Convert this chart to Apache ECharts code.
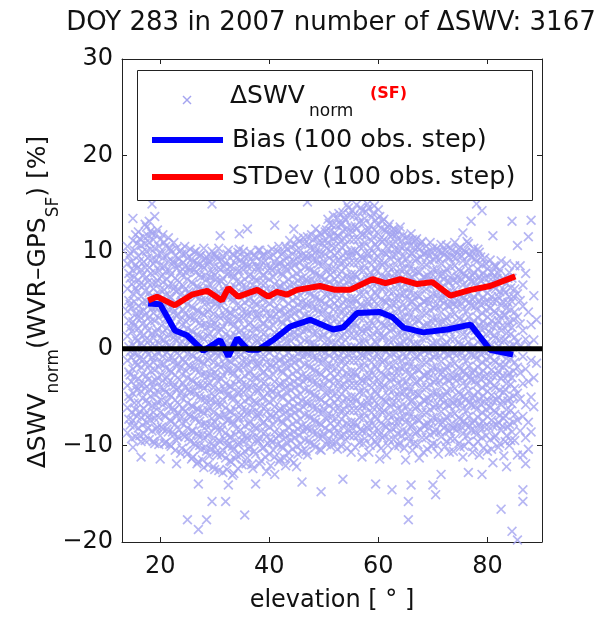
<!DOCTYPE html>
<html><head><meta charset="utf-8">
<script src="https://cdn.jsdelivr.net/npm/echarts@6/dist/echarts.min.js"></script>
<style>html,body{margin:0;padding:0;background:#fff}#c{width:601px;height:618px}</style>
</head><body><div id="c"></div><script>
const FONT = '"DejaVu Sans", sans-serif';
const titleText = 'DOY 283 in 2007 number of ΔSWV: 3167';
const xTicks = [20, 40, 60, 80];
const xMin = 13, xMax = 90;
const yMin = -20, yMax = 30, yStep = 10;

// Bias (100 obs. step)
const biasElev = [17.8,20.0,22.7,24.9,27.9,31.0,32.5,34.1,36.1,38.0,40.7,43.8,47.5,51.7,53.5,56.1,60.3,62.5,64.6,68.2,72.6,76.9,80.5,84.7];
const biasVal  = [4.7,4.6,1.9,1.4,-0.2,0.9,-0.8,1.1,-0.1,-0.1,0.9,2.3,3.0,2.0,2.2,3.7,3.8,3.3,2.2,1.7,2.0,2.5,-0.1,-0.6];
// STDev (100 obs. step)
const stdElev = [17.8,19.4,22.7,25.8,28.6,31.3,32.5,34.3,37.8,39.8,41.4,43.2,45.1,49.3,52.1,54.8,58.9,61.3,64.0,67.1,69.9,73.2,76.9,80.5,85.1];
const stdVal  = [5.0,5.4,4.5,5.6,6.0,5.0,6.3,5.4,6.1,5.4,5.9,5.6,6.1,6.5,6.1,6.1,7.2,6.8,7.2,6.7,6.9,5.5,6.1,6.5,7.5];
// zero reference line
const zeroElev = [13, 90];
const zeroVal = [0, 0];

// ΔSWV_norm scatter, read column by column (elevation -> values)
const swvColumnElev = [14.0,14.5,15.0,15.5,16.0,16.5,17.0,17.5,18.0,18.5,19.0,19.5,20.0,20.5,21.0,21.5,22.0,22.5,23.0,23.5,24.0,24.5,25.0,25.5,26.0,26.5,27.0,27.5,28.0,28.5,29.0,29.5,30.0,30.5,31.0,31.5,32.0,32.5,33.0,33.5,34.0,34.5,35.0,35.5,36.0,36.5,37.0,37.5,38.0,38.5,39.0,39.5,40.0,40.5,41.0,41.5,42.0,42.5,43.0,43.5,44.0,44.5,45.0,45.5,46.0,46.5,47.0,47.5,48.0,48.5,49.0,49.5,50.0,50.5,51.0,51.5,52.0,52.5,53.0,53.5,54.0,54.5,55.0,55.5,56.0,56.5,57.0,57.5,58.0,58.5,59.0,59.5,60.0,60.5,61.0,61.5,62.0,62.5,63.0,63.5,64.0,64.5,65.0,65.5,66.0,66.5,67.0,67.5,68.0,68.5,69.0,69.5,70.0,70.5,71.0,71.5,72.0,72.5,73.0,73.5,74.0,74.5,75.0,75.5,76.0,76.5,77.0,77.5,78.0,78.5,79.0,79.5,80.0,80.5,81.0,81.5,82.0,82.5,83.0,83.5,84.0,84.5,85.0,85.5,86.0,86.5,87.0,87.5,88.0,88.5,89.0];
const swvColumnValues = [
[-8.7,-6.1,-3.8,-1.2,1.3,3.9,6.2,8.8,10.6],
[-7.9,-5.2,-2.7,-0.3,2.2,4.6,7.3,9.9],
[-10.2,-7.4,-4.6,-2.1,0.4,2.8,5.7,8.1,11.2,13.5],
[-9.1,-6.3,-3.9,-1.4,1.1,3.6,6.3,8.7,11.8],
[-8.2,-5.6,-3.1,-0.6,2.1,4.4,7.1,9.6,12.1],
[-11.2,-9.6,-7.1,-4.4,-1.9,0.6,3.2,5.4,8.2,10.7],
[-8.8,-6.2,-3.6,-1.1,1.4,4.0,6.6,9.0,11.6],
[-7.6,-5.3,-2.8,-0.2,2.4,4.9,7.4,10.1,12.6],
[-9.4,-6.9,-4.2,-1.7,0.9,3.3,5.8,8.4,11.0,13.2],
[-8.5,-5.9,-3.4,-0.9,1.6,4.2,6.8,9.3,11.9,15.0],
[-9.8,-7.2,-4.7,-2.2,0.3,2.9,5.2,7.9,10.4,13.7],
[-8.1,-5.5,-3.0,-0.4,2.0,4.6,7.1,9.7,12.3],
[-11.4,-9.0,-6.6,-4.0,-1.5,1.1,3.7,6.1,8.6,11.3],
[-8.3,-5.8,-3.3,-0.8,1.7,4.3,6.9,9.4,11.8],
[-9.7,-7.0,-4.5,-2.0,0.6,3.1,5.6,8.0,10.6],
[-8.6,-6.0,-3.5,-1.0,1.5,4.1,6.5,9.1,11.5],
[-10.1,-7.5,-4.9,-2.4,0.1,2.7,5.3,7.7,10.2],
[-8.9,-6.4,-3.9,-1.3,1.2,3.8,6.2,8.9,11.0],
[-11.9,-9.5,-7.0,-4.3,-1.8,0.8,3.4,5.9,8.3,10.4],
[-8.4,-5.8,-3.2,-0.7,1.9,4.4,6.9,9.3],
[-10.3,-7.7,-5.1,-2.6,0.0,2.5,5.0,7.6,9.8],
[-9.1,-6.5,-4.0,-1.4,1.1,3.6,6.1,8.5,10.6],
[-17.7,-10.9,-8.2,-5.6,-3.0,-0.5,2.1,4.6,7.2,9.4],
[-9.6,-7.0,-4.5,-1.9,0.7,3.2,5.7,8.1,10.3],
[-11.2,-8.5,-6.0,-3.4,-0.8,1.7,4.2,6.7,9.0],
[-10.0,-7.3,-4.8,-2.2,0.3,2.9,5.4,7.9,10.1],
[-18.7,-14.0,-11.7,-9.0,-6.3,-3.8,-1.2,1.3,3.9,6.3,8.7],
[-10.4,-7.9,-5.2,-2.7,-0.1,2.4,5.0,7.4,9.7],
[-12.3,-9.3,-6.7,-4.1,-1.6,1.0,3.5,6.0,8.4,10.4],
[-17.7,-10.6,-8.0,-5.4,-2.9,-0.3,2.2,4.8,7.2,9.5],
[-11.1,-8.7,-6.0,-3.5,-0.9,1.6,4.1,6.7,9.1],
[-15.8,-9.8,-7.2,-4.6,-2.1,0.5,3.0,5.5,8.0,10.1,15.0],
[-12.5,-10.2,-7.6,-5.0,-2.5,0.1,2.6,5.1,7.6,9.8],
[-11.0,-8.4,-5.8,-3.3,-0.7,1.8,4.4,6.9,9.3],
[-9.6,-7.0,-4.4,-1.9,0.7,3.2,5.7,8.2,11.7],
[-12.8,-10.5,-7.9,-5.3,-2.7,-0.2,2.3,4.9,7.3,9.6],
[-15.8,-11.3,-8.7,-6.1,-3.6,-1.0,1.5,4.0,6.5,8.9],
[-14.1,-10.0,-7.4,-4.8,-2.3,0.3,2.8,5.3,7.8,10.2],
[-11.7,-9.1,-6.5,-3.9,-1.4,1.2,3.7,6.2,8.6],
[-12.9,-10.4,-7.8,-5.2,-2.6,-0.1,2.4,5.0,7.4,9.7],
[-11.0,-8.3,-5.7,-3.1,-0.6,2.0,4.5,7.0,9.4],
[-9.7,-7.1,-4.5,-2.0,0.6,3.1,5.6,8.1,10.3,11.9],
[-12.0,-8.9,-6.3,-3.7,-1.2,1.4,3.9,6.4,8.8],
[-17.2,-10.6,-8.0,-5.4,-2.8,-0.3,2.2,4.8,7.2,9.5],
[-11.3,-9.3,-6.7,-4.1,-1.6,1.0,3.5,6.0,8.5,12.4],
[-10.1,-7.5,-4.9,-2.3,0.2,2.7,5.3,7.7,10.0],
[-12.4,-8.7,-6.1,-3.5,-1.0,1.6,4.1,6.6,9.0],
[-14.0,-10.9,-8.2,-5.6,-3.0,-0.5,2.1,4.6,7.1,9.5],
[-9.6,-7.0,-4.4,-1.8,0.7,3.2,5.8,8.2,10.2],
[-11.6,-8.5,-5.9,-3.3,-0.8,1.8,4.3,6.8,9.1],
[-10.2,-7.6,-5.0,-2.4,0.1,2.6,5.2,7.6,9.8],
[-12.7,-9.1,-6.5,-3.9,-1.4,1.2,3.7,6.2,8.6],
[-10.9,-8.1,-5.5,-2.9,-0.4,2.2,4.7,7.2,9.5],
[-9.7,-7.1,-4.5,-1.9,0.6,3.1,5.7,8.1,10.3],
[-13.0,-11.2,-8.6,-6.0,-3.4,-0.9,1.7,4.2,6.7,9.0,12.8],
[-9.9,-7.3,-4.7,-2.1,0.4,3.0,5.5,8.0,10.1],
[-11.4,-8.8,-6.2,-3.6,-1.1,1.5,4.0,6.5,8.9],
[-10.3,-7.7,-5.1,-2.5,0.0,2.6,5.1,7.6,9.9],
[-12.1,-9.2,-6.6,-4.0,-1.5,1.1,3.6,6.1,8.5,10.6],
[-10.7,-8.1,-5.5,-2.9,-0.4,2.2,4.7,7.2,9.6],
[-9.5,-6.9,-4.3,-1.7,0.8,3.4,5.9,8.4,10.5],
[-11.8,-8.6,-6.0,-3.4,-0.9,1.7,4.2,6.7,9.1,12.4],
[-12.2,-10.1,-7.5,-4.9,-2.3,0.2,2.8,5.3,7.8,10.2],
[-9.0,-6.4,-3.8,-1.2,1.3,3.9,6.4,8.9,11.1],
[-13.8,-10.6,-8.0,-5.4,-2.8,-0.3,2.3,4.8,7.3,9.7],
[-9.4,-6.8,-4.2,-1.6,0.9,3.5,6.0,8.5,10.9],
[-11.0,-8.3,-5.7,-3.1,-0.6,2.0,4.5,7.0,9.4,11.6,15.2],
[-9.8,-7.2,-4.6,-2.0,0.5,3.1,5.6,8.1,10.4],
[-8.7,-6.1,-3.5,-0.9,1.6,4.2,6.7,9.2,11.3],
[-10.2,-7.6,-5.0,-2.4,0.1,2.7,5.2,7.7,10.0,12.4],
[-9.1,-6.5,-3.9,-1.3,1.2,3.8,6.3,8.8,11.0],
[-14.8,-10.5,-7.9,-5.3,-2.7,-0.2,2.4,4.9,7.4,9.8,11.9],
[-8.8,-6.2,-3.6,-1.0,1.5,4.1,6.6,9.1,11.2],
[-9.9,-7.3,-4.7,-2.1,0.4,3.0,5.5,8.0,10.4,12.3],
[-8.5,-5.9,-3.3,-0.7,1.8,4.4,6.9,9.4,11.6,13.0],
[-9.6,-7.0,-4.4,-1.8,0.7,3.3,5.8,8.3,10.7,12.8],
[-8.2,-5.6,-3.0,-0.4,2.1,4.7,7.2,9.7,12.0],
[-10.4,-7.8,-5.2,-2.6,-0.1,2.5,5.0,7.5,9.9,11.7,13.6],
[-9.1,-6.5,-3.9,-1.3,1.2,3.8,6.3,8.8,11.1,12.9],
[-13.5,-8.0,-5.4,-2.8,-0.3,2.3,4.8,7.3,9.7,12.2,14.1],
[-9.4,-6.8,-4.2,-1.6,0.9,3.5,6.0,8.5,10.8,13.3],
[-8.3,-5.7,-3.1,-0.5,2.0,4.6,7.1,9.6,12.0,14.6],
[-10.7,-7.6,-5.0,-2.4,0.1,2.7,5.2,7.7,10.1,12.6],
[-9.0,-6.4,-3.8,-1.2,1.3,3.9,6.4,8.9,11.3,13.8],
[-8.0,-5.4,-2.8,-0.2,2.3,4.9,7.4,9.9,12.4,14.9],
[-9.7,-7.1,-4.5,-1.9,0.6,3.2,5.7,8.2,10.6,13.1],
[-11.2,-8.5,-5.9,-3.3,-0.7,1.8,4.4,6.9,9.4,11.8,14.3],
[-9.3,-6.7,-4.1,-1.5,1.0,3.6,6.1,8.6,11.0,13.5],
[-8.2,-5.6,-3.0,-0.4,2.1,4.7,7.2,9.7,12.2,15.0],
[-10.0,-7.4,-4.8,-2.2,0.3,2.9,5.4,7.9,10.4,12.8],
[-8.7,-6.1,-3.5,-0.9,1.6,4.2,6.7,9.2,11.6,14.0],
[-14.0,-9.6,-7.0,-4.4,-1.8,0.7,3.3,5.8,8.3,10.8,13.3],
[-8.4,-5.8,-3.2,-0.6,1.9,4.5,7.0,9.5,11.9,14.4],
[-10.3,-7.7,-5.1,-2.5,0.0,2.6,5.1,7.6,10.0,12.5],
[-9.0,-6.4,-3.8,-1.2,1.3,3.9,6.4,8.9,11.3,13.4],
[-11.0,-8.1,-5.5,-2.9,-0.3,2.2,4.8,7.3,9.8,12.1],
[-9.4,-6.8,-4.2,-1.6,0.9,3.5,6.0,8.5,10.9,12.9],
[-14.6,-8.2,-5.6,-3.0,-0.4,2.1,4.7,7.2,9.7,11.8],
[-10.1,-7.5,-4.9,-2.3,0.2,2.8,5.3,7.8,10.3,12.3],
[-8.8,-6.2,-3.6,-1.0,1.5,4.1,6.6,9.1,11.4],
[-9.7,-7.1,-4.5,-1.9,0.6,3.2,5.7,8.2,10.6,12.6],
[-8.4,-5.8,-3.2,-0.6,1.9,4.5,7.0,9.5,11.7],
[-11.5,-7.6,-5.0,-2.4,0.1,2.7,5.2,7.7,10.1],
[-17.7,-15.8,-9.1,-6.5,-3.9,-1.3,1.2,3.8,6.3,8.8,11.2],
[-14.1,-8.0,-5.4,-2.8,-0.2,2.3,4.9,7.4,9.9,11.9],
[-9.8,-7.2,-4.6,-2.0,0.5,3.1,5.6,8.1,10.5],
[-8.6,-6.0,-3.4,-0.8,1.7,4.3,6.8,9.3,11.4],
[-11.3,-7.4,-4.8,-2.2,0.3,2.9,5.4,7.9,10.3],
[-9.2,-6.6,-4.0,-1.4,1.1,3.7,6.2,8.7,11.1],
[-8.0,-5.4,-2.8,-0.2,2.3,4.9,7.4,9.9],
[-10.4,-7.7,-5.1,-2.5,0.0,2.6,5.1,7.6,10.0],
[-8.9,-6.3,-3.7,-1.1,1.4,4.0,6.5,9.0,11.0],
[-14.1,-9.8,-7.1,-4.5,-1.9,0.6,3.2,5.7,8.2,10.4],
[-15.1,-8.4,-5.8,-3.2,-0.6,1.9,4.5,7.0,9.5],
[-10.9,-7.6,-5.0,-2.4,0.1,2.7,5.2,7.7,10.1],
[-13.0,-9.1,-6.5,-3.9,-1.3,1.2,3.8,6.3,8.8,10.8],
[-8.2,-5.6,-3.0,-0.4,2.1,4.7,7.2,9.7],
[-9.6,-7.0,-4.4,-1.8,0.7,3.3,5.8,8.3,10.7],
[-10.7,-8.5,-5.9,-3.3,-0.7,1.8,4.4,6.9,9.4],
[-7.7,-5.1,-2.5,0.0,2.6,5.1,7.6,10.2],
[-9.3,-6.7,-4.1,-1.5,1.0,3.6,6.1,8.6,11.0],
[-8.0,-5.4,-2.8,-0.2,2.3,4.9,7.4,9.9],
[-10.2,-7.3,-4.7,-2.1,0.4,3.0,5.5,8.0,10.5],
[-11.2,-8.8,-6.2,-3.6,-1.0,1.5,4.1,6.6,9.1,12.0],
[-7.9,-5.3,-2.7,-0.1,2.4,5.0,7.5,10.0],
[-12.8,-9.6,-7.0,-4.4,-1.8,0.7,3.3,5.8,8.3,10.9],
[-8.4,-5.8,-3.2,-0.6,1.9,4.5,7.0,9.5,13.2],
[-10.1,-7.4,-4.8,-2.2,0.3,2.9,5.4,7.9,10.4],
[-8.9,-6.3,-3.7,-1.1,1.4,4.0,6.5,9.0,15.0],
[-11.0,-7.8,-5.2,-2.6,-0.1,2.5,5.0,7.5,10.0],
[-13.0,-9.2,-6.6,-4.0,-1.4,1.1,3.7,6.2,8.7,14.3],
[-8.1,-5.5,-2.9,-0.3,2.2,4.8,7.3,9.4],
[-10.6,-7.0,-4.4,-1.8,0.7,3.3,5.8,8.3],
[-9.4,-6.1,-3.5,-0.9,1.6,4.2,6.7,9.2],
[-11.8,-8.0,-5.4,-2.8,-0.2,2.3,4.9,7.4,11.7],
[-9.0,-6.6,-4.0,-1.4,1.1,3.7,6.2,8.5],
[-10.2,-7.6,-5.0,-2.3,0.3,2.9,5.4,7.8],
[-16.6,-8.4,-5.8,-3.1,-0.6,1.9,4.5,7.0,9.1],
[-11.1,-7.2,-4.5,-1.9,0.8,3.5,6.1],
[-12.2,-9.0,-6.3,-3.6,-1.0,1.6,4.2,6.8,8.8],
[-10.0,-7.8,-5.1,-2.5,0.2,2.8,5.4,7.9],
[-18.9,-8.6,-5.7,-3.0,-0.4,2.2,4.9,7.3,13.2],
[-9.5,-6.8,-4.1,-1.4,1.2,3.8,6.2,8.6],
[-19.8,-11.0,-7.4,-4.6,-1.9,0.7,3.3,5.7,10.7],
[-8.5,-5.2,-2.5,0.2,2.6,5.0,8.6],
[-15.8,-14.6,-11.0,-7.0,-3.6,-0.8,1.9,4.4,6.6],
[-11.9,-9.2,-5.8,-2.1,1.0,7.8],
[-10.4,-7.6,-3.4,0.4,3.8,11.6],
[-8.6,-5.0,-1.2,2.5,13.3],
[-6.0,-3.0,0.9,5.5],
[-1.5,3.0]
];
// second, interleaved set of columns in the dense core of the cloud
const swvColumnElev2 = [14.25,14.75,15.25,15.75,16.25,16.75,17.25,17.75,18.25,18.75,19.25,19.75,20.25,20.75,21.25,21.75,22.25,22.75,23.25,23.75,24.25,24.75,25.25,25.75,26.25,26.75,27.25,27.75,28.25,28.75,29.25,29.75,30.25,30.75,31.25,31.75,32.25,32.75,33.25,33.75,34.25,34.75,35.25,35.75,36.25,36.75,37.25,37.75,38.25,38.75,39.25,39.75,40.25,40.75,41.25,41.75,42.25,42.75,43.25,43.75,44.25,44.75,45.25,45.75,46.25,46.75,47.25,47.75,48.25,48.75,49.25,49.75,50.25,50.75,51.25,51.75,52.25,52.75,53.25,53.75,54.25,54.75,55.25,55.75,56.25,56.75,57.25,57.75,58.25,58.75,59.25,59.75,60.25,60.75,61.25,61.75,62.25,62.75,63.25,63.75,64.25,64.75,65.25,65.75,66.25,66.75,67.25,67.75,68.25,68.75,69.25,69.75,70.25,70.75,71.25,71.75,72.25,72.75,73.25,73.75,74.25,74.75,75.25,75.75,76.25,76.75,77.25,77.75,78.25,78.75,79.25,79.75,80.25,80.75,81.25,81.75,82.25,82.75,83.25,83.75,84.25,84.75];
const swvColumnValues2 = [
[-7.3,-4.9,-2.4,0.2,2.9,5.0,7.8,9.6],
[-9.3,-6.6,-3.4,-0.9,1.8,4.2,6.7,9.0],
[-8.0,-5.6,-2.9,-0.4,2.4,4.9,7.4,10.2],
[-7.0,-4.3,-1.7,0.8,3.2,5.9,8.3,10.9],
[-9.0,-6.5,-3.7,-1.0,1.6,3.8,6.6,9.1,11.4],
[-7.9,-5.1,-2.6,0.1,2.6,4.8,7.6,10.0],
[-9.5,-6.8,-4.1,-1.6,0.9,3.5,6.0,8.4,10.9,12.9],
[-8.2,-5.7,-3.2,-0.6,1.9,4.4,6.9,9.4,11.7],
[-7.4,-4.9,-2.3,0.3,2.8,5.3,7.8,10.3,12.2],
[-9.6,-6.6,-4.0,-1.4,1.1,3.7,6.2,8.8,11.3],
[-8.3,-5.9,-3.3,-0.8,1.7,4.3,6.8,9.2,11.9],
[-9.9,-7.1,-4.5,-1.9,0.6,3.2,5.7,8.1,10.6],
[-8.1,-5.3,-2.7,-0.1,2.4,4.9,7.5,9.9],
[-9.8,-6.9,-4.2,-1.6,0.9,3.5,6.1,8.5,11.0],
[-8.3,-5.5,-3.0,-0.4,2.1,4.6,7.2,9.6],
[-9.9,-7.4,-4.7,-2.2,0.4,3.0,5.4,8.1,10.4],
[-8.6,-6.1,-3.5,-0.9,1.6,4.2,6.6,9.0],
[-10.5,-7.8,-5.3,-2.7,-0.2,2.3,4.8,7.3,9.6],
[-9.1,-6.6,-4.0,-1.5,1.2,3.6,6.2,8.7],
[-10.8,-7.2,-4.6,-2.0,0.5,3.0,5.6,8.0,10.2],
[-8.9,-6.2,-3.6,-1.1,1.5,4.0,6.5,8.9],
[-10.6,-7.5,-4.9,-2.3,0.3,2.8,5.3,7.9,9.9],
[-9.2,-6.8,-4.2,-1.7,0.9,3.4,5.9,8.4],
[-11.4,-8.5,-5.9,-3.2,-0.6,1.9,4.4,6.9,9.3],
[-9.8,-7.1,-4.4,-1.9,0.6,3.2,5.6,8.2,10.0],
[-11.9,-8.8,-6.2,-3.6,-1.0,1.5,4.0,6.5,8.9],
[-10.0,-7.5,-4.9,-2.3,0.2,2.7,5.3,7.7,9.6],
[-11.5,-8.9,-6.4,-3.8,-1.3,1.2,3.7,6.2,8.6],
[-10.2,-7.7,-5.1,-2.5,0.0,2.6,5.1,7.6,9.3],
[-12.0,-9.0,-6.4,-3.8,-1.2,1.3,3.8,6.3,8.7],
[-10.4,-7.9,-5.3,-2.7,-0.2,2.4,4.9,7.4,9.6],
[-12.2,-9.3,-6.6,-4.0,-1.4,1.1,3.6,6.1,8.5],
[-10.7,-8.1,-5.5,-2.9,-0.4,2.2,4.7,7.2,9.5],
[-12.6,-9.5,-6.9,-4.2,-1.6,0.9,3.4,5.9,8.4,10.4],
[-11.0,-8.4,-5.8,-3.1,-0.5,2.0,4.5,7.0,9.2],
[-9.3,-6.8,-4.2,-1.6,1.0,3.5,6.0,8.5],
[-12.5,-10.0,-7.4,-4.8,-2.2,0.3,2.9,5.4,7.7,9.8],
[-11.6,-9.2,-6.5,-3.9,-1.3,1.2,3.7,6.2,8.5],
[-13.1,-10.1,-7.5,-4.9,-2.3,0.3,2.8,5.3,7.8,9.8],
[-11.4,-8.9,-6.3,-3.7,-1.1,1.4,3.9,6.4,8.9],
[-12.4,-9.9,-7.2,-4.6,-2.0,0.5,3.0,5.5,8.0,10.0],
[-11.0,-8.4,-5.8,-3.2,-0.6,1.9,4.4,6.9,9.2],
[-9.6,-7.1,-4.5,-1.9,0.7,3.2,5.7,8.2,10.1],
[-11.9,-9.0,-6.3,-3.7,-1.1,1.4,3.9,6.4,8.8],
[-10.4,-7.8,-5.2,-2.6,0.0,2.5,5.0,7.5,9.6],
[-12.0,-9.2,-6.6,-4.0,-1.4,1.1,3.6,6.1,8.5],
[-10.6,-8.0,-5.4,-2.8,-0.2,2.3,4.9,7.4,9.7],
[-9.4,-6.8,-4.2,-1.6,0.9,3.5,6.0,8.5],
[-11.9,-9.3,-6.7,-4.1,-1.5,1.1,3.6,6.1,8.5,10.2],
[-10.3,-7.7,-5.1,-2.5,0.1,2.6,5.1,7.6,9.6],
[-11.2,-8.6,-6.0,-3.4,-0.8,1.7,4.2,6.8,9.1],
[-9.8,-7.2,-4.6,-2.0,0.6,3.1,5.6,8.1,10.0],
[-12.1,-9.4,-6.8,-4.2,-1.6,0.9,3.5,6.0,8.4],
[-10.5,-7.9,-5.3,-2.7,-0.1,2.4,4.9,7.4,9.7],
[-9.3,-6.7,-4.1,-1.5,1.1,3.6,6.1,8.6],
[-11.7,-9.0,-6.4,-3.8,-1.2,1.3,3.9,6.4,8.8,10.6],
[-10.1,-7.5,-4.9,-2.3,0.3,2.8,5.3,7.8,9.8],
[-11.3,-8.7,-6.1,-3.5,-0.9,1.7,4.2,6.7,9.1],
[-9.7,-7.1,-4.5,-1.9,0.7,3.2,5.7,8.2,10.3],
[-11.4,-8.8,-6.2,-3.6,-1.0,1.5,4.0,6.6,9.0,11.2],
[-10.4,-7.8,-5.2,-2.6,0.0,2.5,5.0,7.5,9.8],
[-9.2,-6.6,-4.0,-1.4,1.2,3.7,6.2,8.7,10.8],
[-10.9,-8.3,-5.7,-3.1,-0.5,2.0,4.6,7.1,9.5,11.4],
[-9.9,-7.3,-4.7,-2.1,0.5,3.0,5.5,8.0,10.2],
[-8.5,-6.0,-3.4,-0.8,1.8,4.3,6.8,9.3,11.5],
[-10.6,-8.1,-5.5,-2.9,-0.3,2.2,4.7,7.2,9.6],
[-9.5,-6.9,-4.3,-1.7,0.9,3.4,5.9,8.4,10.8],
[-8.3,-5.7,-3.1,-0.5,2.1,4.6,7.1,9.6,11.8],
[-9.9,-7.3,-4.7,-2.1,0.5,3.0,5.5,8.0,10.4],
[-8.7,-6.1,-3.5,-0.9,1.7,4.2,6.7,9.2,11.5],
[-10.4,-7.7,-5.1,-2.5,0.1,2.6,5.1,7.6,10.1,12.0],
[-9.1,-6.6,-4.0,-1.4,1.2,3.7,6.2,8.7,10.9],
[-8.2,-5.6,-3.0,-0.4,2.2,4.7,7.2,9.8,12.1],
[-9.5,-6.9,-4.3,-1.7,0.9,3.4,5.9,8.4,11.0,13.4],
[-10.1,-7.7,-5.1,-2.5,0.1,2.6,5.1,7.7,10.1,12.2],
[-8.8,-6.2,-3.6,-1.0,1.6,4.1,6.6,9.1,11.4,13.8],
[-9.7,-7.2,-4.6,-2.0,0.6,3.1,5.6,8.2,10.6,12.8],
[-8.7,-6.1,-3.5,-0.9,1.7,4.2,6.7,9.2,11.6,14.0],
[-10.1,-7.3,-4.7,-2.1,0.5,3.0,5.5,8.0,10.5,12.9],
[-8.9,-6.3,-3.7,-1.1,1.5,4.0,6.5,9.0,11.4,13.6],
[-10.3,-7.7,-5.1,-2.5,0.1,2.6,5.1,7.6,10.0,12.5,14.9],
[-9.0,-6.4,-3.8,-1.2,1.4,3.9,6.4,8.9,11.3,13.9],
[-8.2,-5.6,-3.0,-0.4,2.2,4.7,7.2,9.7,12.1,14.3],
[-10.2,-7.6,-5.0,-2.4,0.2,2.7,5.2,7.7,10.2,12.7],
[-9.0,-6.4,-3.8,-1.2,1.4,3.9,6.4,8.9,11.3,13.7],
[-8.3,-5.7,-3.1,-0.5,2.1,4.6,7.1,9.6,12.0,14.6],
[-9.8,-7.2,-4.6,-2.0,0.6,3.1,5.6,8.1,10.6,13.0],
[-8.6,-6.0,-3.4,-0.8,1.8,4.3,6.8,9.3,11.7,14.2],
[-10.7,-7.9,-5.3,-2.7,-0.1,2.4,4.9,7.4,9.9,12.4,14.6],
[-9.2,-6.6,-4.0,-1.4,1.2,3.7,6.2,8.7,11.2,13.6],
[-8.0,-5.4,-2.8,-0.2,2.4,4.9,7.4,9.9,12.3,14.8],
[-9.9,-7.3,-4.7,-2.1,0.5,3.0,5.5,8.0,10.5,12.9],
[-11.4,-8.9,-6.3,-3.7,-1.1,1.4,3.9,6.4,8.9,11.3,13.7],
[-9.2,-6.6,-4.0,-1.4,1.2,3.7,6.2,8.7,11.1,13.2],
[-8.0,-5.4,-2.8,-0.2,2.4,4.9,7.4,9.9,12.3],
[-10.0,-7.4,-4.8,-2.2,0.4,2.9,5.4,7.9,10.4,12.6],
[-8.6,-6.0,-3.4,-0.8,1.8,4.3,6.8,9.3,11.6],
[-9.4,-6.9,-4.3,-1.7,0.9,3.4,5.9,8.4,10.8,12.4],
[-8.1,-5.6,-3.0,-0.4,2.2,4.7,7.2,9.7,11.8],
[-10.0,-7.5,-4.9,-2.3,0.3,2.8,5.3,7.8,10.2,12.2],
[-9.0,-6.4,-3.8,-1.2,1.4,3.9,6.4,8.9,11.2],
[-10.3,-7.1,-4.5,-1.9,0.7,3.2,5.7,8.2,10.6],
[-8.6,-6.0,-3.4,-0.8,1.8,4.3,6.8,9.3,11.6],
[-9.6,-7.0,-4.4,-1.8,0.8,3.3,5.8,8.3,10.7],
[-10.5,-7.9,-5.3,-2.7,-0.1,2.4,4.9,7.4,9.9,11.3],
[-8.8,-6.2,-3.6,-1.0,1.6,4.1,6.6,9.1,11.2],
[-9.9,-7.3,-4.7,-2.1,0.5,3.0,5.5,8.0,10.5],
[-8.4,-5.8,-3.2,-0.6,2.0,4.5,7.0,9.5,10.9],
[-10.7,-7.9,-5.3,-2.7,-0.1,2.4,4.9,7.4,9.8],
[-9.2,-6.6,-4.0,-1.4,1.2,3.7,6.2,8.7,10.6],
[-8.2,-5.6,-3.0,-0.4,2.2,4.7,7.2,9.6],
[-10.1,-7.5,-4.9,-2.3,0.3,2.8,5.3,7.8,10.1],
[-8.7,-6.1,-3.5,-0.9,1.7,4.2,6.7,9.2],
[-10.0,-7.2,-4.6,-2.0,0.6,3.1,5.6,8.1,10.4],
[-8.6,-5.9,-3.3,-0.7,1.9,4.4,6.9,9.3],
[-7.6,-5.0,-2.4,0.2,2.8,5.3,7.8,10.0],
[-10.1,-7.4,-4.8,-2.2,0.4,2.9,5.4,7.9,10.2],
[-8.4,-5.8,-3.2,-0.6,2.0,4.5,7.0,9.5],
[-9.3,-6.8,-4.2,-1.6,1.0,3.5,6.0,8.5,10.4],
[-10.6,-8.2,-5.6,-3.0,-0.4,2.1,4.6,7.1,9.5],
[-8.4,-5.9,-3.3,-0.7,1.9,4.4,6.9,9.4],
[-9.8,-7.1,-4.5,-1.9,0.7,3.2,5.7,8.2,10.3],
[-8.1,-5.6,-3.0,-0.4,2.2,4.7,7.2,9.6],
[-10.1,-7.5,-4.9,-2.3,0.3,2.8,5.3,7.8,10.2],
[-9.0,-6.4,-3.8,-1.2,1.4,3.9,6.4,8.9,11.1],
[-8.0,-5.5,-2.9,-0.3,2.3,4.8,7.3,9.8],
[-10.7,-7.7,-5.1,-2.5,0.1,2.6,5.1,7.6,10.0],
[-8.5,-5.9,-3.3,-0.7,1.9,4.4,6.9,9.3],
[-9.6,-7.1,-4.5,-1.9,0.7,3.2,5.7,8.2,10.3],
[-8.2,-5.7,-3.1,-0.5,2.1,4.6,7.1,9.5],
[-10.3,-7.5,-4.9,-2.3,0.3,2.8,5.3,7.8],
[-9.0,-6.3,-3.7,-1.1,1.5,4.0,6.5,8.8],
[-8.1,-5.4,-2.8,-0.2,2.4,4.9,7.4],
[-10.4,-7.4,-4.8,-2.2,0.4,2.9,5.4,7.9],
[-9.2,-6.4,-3.8,-1.2,1.4,3.9,6.4,8.6],
[-7.9,-5.3,-2.7,-0.1,2.5,5.0,7.3],
[-9.8,-6.9,-4.3,-1.7,0.9,3.4,5.9,8.2],
[-8.0,-5.4,-2.8,-0.2,2.4,4.9,7.2],
[-9.6,-6.9,-4.2,-1.6,1.0,3.5,5.8],
[-8.1,-5.4,-2.8,-0.2,2.4,4.8,7.3],
[-9.5,-6.4,-3.7,-1.1,1.5,4.0,6.3],
[-7.6,-4.9,-2.3,0.4,3.0,5.4]
];

const scatterData = [];
swvColumnElev.forEach((e, i) => swvColumnValues[i].forEach(v => scatterData.push([e, v])));
swvColumnElev2.forEach((e, i) => swvColumnValues2[i].forEach(v => scatterData.push([e, v])));
const zip = (a, b) => a.map((v, i) => [v, b[i]]);

const X_SYMBOL = 'path://M0,1.2L1.2,0L5,3.8L8.8,0L10,1.2L6.2,5L10,8.8L8.8,10L5,6.2L1.2,10L0,8.8L3.8,5Z';
const MARK_COLOR = '#a4a4f0';
const AX = '#222';

const chart = echarts.init(document.getElementById('c'), null, {renderer: 'canvas'});

const axisCommon = {
  type: 'value', splitLine: {show: false},
  axisLine: {show: true, onZero: false, lineStyle: {color: AX, width: 1}}
};

chart.setOption({
  animation: false,
  backgroundColor: '#fff',
  grid: {left: 122, right: 59, top: 59, bottom: 73, containLabel: false},
  xAxis: [
    Object.assign({}, axisCommon, {
      min: xMin, max: xMax, position: 'bottom',
      axisTick: {show: true, inside: true, length: 5, customValues: xTicks, lineStyle: {color: AX}},
      axisLabel: {customValues: xTicks, fontSize: 24, fontFamily: FONT, color: '#111', margin: 13},
      name: 'elevation [ ° ]', nameLocation: 'middle', nameGap: 47,
      nameTextStyle: {fontSize: 24, fontFamily: FONT, color: '#111'}
    }),
    Object.assign({}, axisCommon, {
      min: xMin, max: xMax, position: 'top',
      axisTick: {show: true, inside: true, length: 5, customValues: xTicks, lineStyle: {color: AX}},
      axisLabel: {show: false}
    })
  ],
  yAxis: [
    Object.assign({}, axisCommon, {
      min: yMin, max: yMax, interval: yStep, position: 'left',
      axisTick: {show: true, inside: true, length: 5, lineStyle: {color: AX}},
      axisLabel: {fontSize: 24, fontFamily: FONT, color: '#111', margin: 9,
        formatter: v => (v < 0 ? '\u2212' + Math.abs(v) : String(v))}
    }),
    Object.assign({}, axisCommon, {
      min: yMin, max: yMax, interval: yStep, position: 'right',
      axisTick: {show: true, inside: true, length: 5, lineStyle: {color: AX}},
      axisLabel: {show: false}
    })
  ],
  series: [
    {
      name: 'ΔSWV_norm', type: 'scatter', data: scatterData,
      symbol: X_SYMBOL, symbolSize: 10,
      itemStyle: {color: MARK_COLOR}, z: 1, silent: true
    },
    {
      name: 'Bias', type: 'line', data: zip(biasElev, biasVal),
      showSymbol: false, symbol: 'none',
      lineStyle: {color: '#0000ff', width: 6}, z: 3
    },
    {
      name: 'STDev', type: 'line', data: zip(stdElev, stdVal),
      showSymbol: false, symbol: 'none',
      lineStyle: {color: '#ff0000', width: 6}, z: 3
    },
    {
      name: 'zero', type: 'line', data: zip(zeroElev, zeroVal),
      showSymbol: false, symbol: 'none',
      lineStyle: {color: '#000', width: 5}, z: 4
    }
  ],
  graphic: [
    {type: 'text', x: 331, y: 23, z: 100,
     style: {text: titleText, fontSize: 26, fontFamily: FONT, fill: '#111',
             align: 'center', verticalAlign: 'middle', textAlign: 'center', textVerticalAlign: 'middle'}},
    {type: 'text', x: 44, y: 302, rotation: Math.PI / 2, z: 100,
     style: {
       text: '{a|ΔSWV}{s|norm}{a|(WVR\u2013GPS}{s|SF}{a|) [%]}',
       align: 'center', verticalAlign: 'middle', textAlign: 'center', textVerticalAlign: 'middle',
       fill: '#111',
       rich: {
         a: {fontSize: 25, fontFamily: FONT, lineHeight: 30, verticalAlign: 'top', fill: '#111', color: '#111'},
         s: {fontSize: 17, fontFamily: FONT, lineHeight: 36, verticalAlign: 'bottom', fill: '#111', color: '#111'}
       }
     }},
    // legend box
    {type: 'rect', z: 100, shape: {x: 137.5, y: 70.5, width: 395, height: 130},
     style: {fill: '#fff', stroke: AX, lineWidth: 1}},
    {type: 'line', z: 101, shape: {x1: 183, y1: 96, x2: 191, y2: 104}, style: {stroke: MARK_COLOR, lineWidth: 1.5}},
    {type: 'line', z: 101, shape: {x1: 191, y1: 96, x2: 183, y2: 104}, style: {stroke: MARK_COLOR, lineWidth: 1.5}},
    {type: 'text', x: 230, y: 96, z: 101,
     style: {text: 'ΔSWV', fontSize: 25, fontFamily: FONT, fill: '#111', align: 'left', verticalAlign: 'middle', textAlign: 'left', textVerticalAlign: 'middle'}},
    {type: 'text', x: 309, y: 112, z: 101,
     style: {text: 'norm', fontSize: 17, fontFamily: FONT, fill: '#111', align: 'left', verticalAlign: 'middle', textAlign: 'left', textVerticalAlign: 'middle'}},
    {type: 'text', x: 370, y: 94, z: 101,
     style: {text: '(SF)', fontSize: 16, fontWeight: 'bold', fontFamily: FONT, fill: '#ff0000', align: 'left', verticalAlign: 'middle', textAlign: 'left', textVerticalAlign: 'middle'}},
    {type: 'line', z: 101, shape: {x1: 152, y1: 140, x2: 223, y2: 140}, style: {stroke: '#0000ff', lineWidth: 6}},
    {type: 'text', x: 232, y: 140, z: 101,
     style: {text: 'Bias (100 obs. step)', fontSize: 25.5, fontFamily: FONT, fill: '#111', align: 'left', verticalAlign: 'middle', textAlign: 'left', textVerticalAlign: 'middle'}},
    {type: 'line', z: 101, shape: {x1: 152, y1: 177, x2: 223, y2: 177}, style: {stroke: '#ff0000', lineWidth: 6}},
    {type: 'text', x: 232, y: 177, z: 101,
     style: {text: 'STDev (100 obs. step)', fontSize: 25.5, fontFamily: FONT, fill: '#111', align: 'left', verticalAlign: 'middle', textAlign: 'left', textVerticalAlign: 'middle'}}
  ]
});
</script></body></html>
